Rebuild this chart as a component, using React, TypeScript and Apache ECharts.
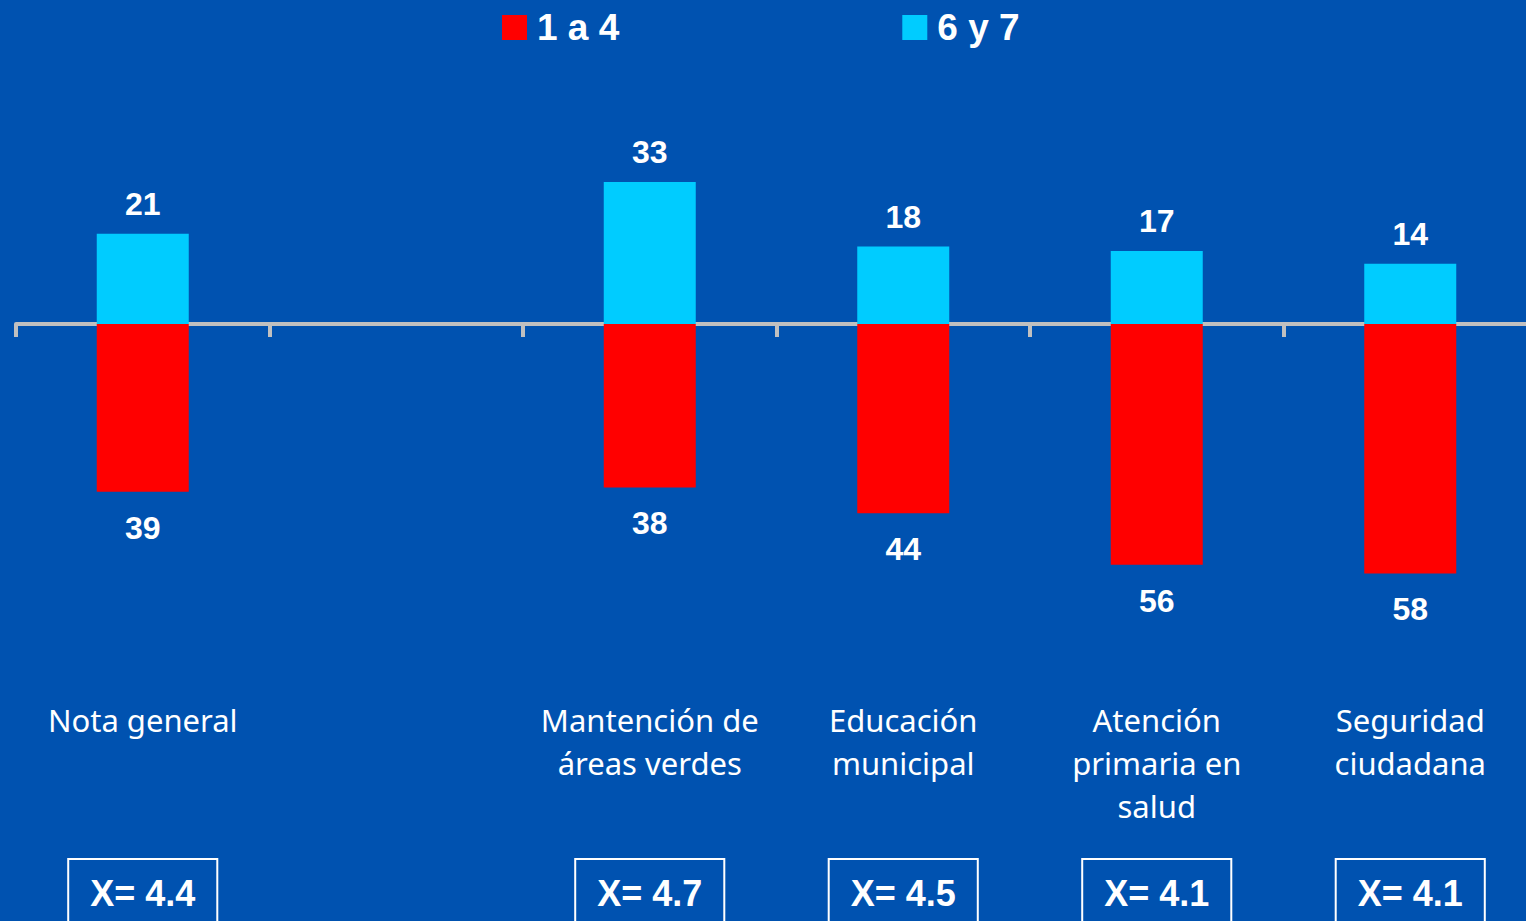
import React, { useEffect, useRef } from "react";
import * as echarts from "echarts";

const categories = [
  "Nota general",
  "",
  "Mantención de\náreas verdes",
  "Educación\nmunicipal",
  "Atención\nprimaria en\nsalud",
  "Seguridad\nciudadana",
];
const means = ["X= 4.4", "", "X= 4.7", "X= 4.5", "X= 4.1", "X= 4.1"];
const low = [39, null, 38, 44, 56, 58]; // 1 a 4
const high = [21, null, 33, 18, 17, 14]; // 6 y 7
const seriesNames = ["1 a 4", "6 y 7"];

export default function App() {
  const ref = useRef<HTMLDivElement>(null);
  useEffect(() => {
    if (!ref.current) return;
    const chart = echarts.init(ref.current, null, { renderer: "svg" });
    const boldNum = {
      color: "#ffffff",
      fontFamily: "Liberation Sans, Arial, sans-serif",
      fontWeight: "bold" as const,
      fontSize: 32,
    };
    chart.setOption({
      animation: false,
      backgroundColor: "#0052B0",
      legend: {
        data: seriesNames,
        top: 4,
        left: 497,
        itemWidth: 25,
        itemHeight: 25,
        itemGap: 283,
        icon: "rect",
        textStyle: {
          color: "#ffffff",
          fontFamily: "Liberation Sans, Arial, sans-serif",
          fontWeight: "bold",
          fontSize: 37,
          lineHeight: 26,
          padding: [0, 0, 0, 5],
        },
      },
      grid: { left: 16, top: 66, width: 1521, height: 602, outerBoundsMode: "none", containLabel: false },
      xAxis: [
        {
          type: "category",
          data: categories,
          axisLine: { onZero: true, lineStyle: { color: "#C0C0C0", width: 4 } },
          axisTick: { show: true, length: 13, lineStyle: { color: "#C0C0C0", width: 4 } },
          axisLabel: { show: false },
        },
        {
          type: "category",
          data: categories,
          position: "bottom",
          axisLine: { show: false, onZero: false },
          axisTick: { show: false },
          axisLabel: {
            interval: 0,
            margin: 30,
            color: "#ffffff",
            fontFamily: "Noto Sans, Open Sans, sans-serif",
            fontSize: 31,
            lineHeight: 43,
            verticalAlign: "top",
          },
        },
        {
          type: "category",
          data: means,
          position: "bottom",
          axisLine: { show: false, onZero: false },
          axisTick: { show: false },
          axisLabel: {
            interval: 0,
            margin: 212,
            verticalAlign: "top",
            formatter: (v: string) => (v ? `{b|${v}}` : ""),
            rich: {
              b: {
                color: "#ffffff",
                fontFamily: "Liberation Sans, Arial, sans-serif",
                fontWeight: "bold",
                fontSize: 36,
                lineHeight: 40,
                borderColor: "#ffffff",
                borderWidth: 2,
                padding: [16, 22, 30, 22],
              },
            },
          },
        },
      ],
      yAxis: {
        type: "value",
        min: -80,
        max: 60,
        show: false,
        splitLine: { show: false },
      },
      series: [
        {
          name: seriesNames[0],
          type: "bar",
          stack: "s",
          xAxisIndex: 0,
          barWidth: 92,
          itemStyle: { color: "#FF0000" },
          data: low.map((v) => (v == null ? null : -v)),
          label: {
            show: true,
            position: "bottom",
            distance: 20,
            ...boldNum,
            formatter: (p: any) => String(Math.abs(p.value)),
          },
        },
        {
          name: seriesNames[1],
          type: "bar",
          stack: "s",
          xAxisIndex: 0,
          barWidth: 92,
          itemStyle: { color: "#00CCFF" },
          data: high,
          label: {
            show: true,
            position: "top",
            distance: 14,
            ...boldNum,
          },
        },
      ],
    });
    return () => chart.dispose();
  }, []);
  return (
    <div
      ref={ref}
      style={{ position: "fixed", left: 0, top: 0, width: 1526, height: 921 }}
    />
  );
}
